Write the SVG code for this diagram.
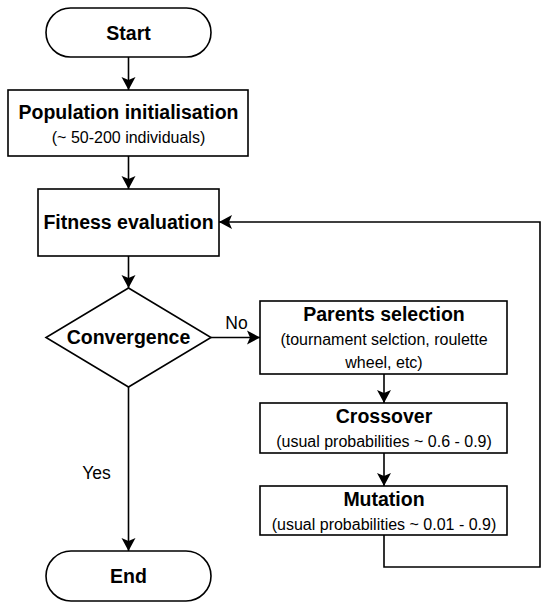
<svg xmlns="http://www.w3.org/2000/svg" width="550" height="609" viewBox="0 0 550 609">
<defs>
<marker id="arr" markerUnits="userSpaceOnUse" markerWidth="16" markerHeight="16" viewBox="0 0 16 16" refX="14" refY="8" orient="auto">
<path d="M1,1 L14,8 L1,15 L4,8 Z" fill="#000"/>
</marker>
</defs>
<style>
.s{fill:#fff;stroke:#000;stroke-width:1.6}
.b{font-family:"Liberation Sans",Arial,sans-serif;font-weight:bold;font-size:19.5px;text-anchor:middle;fill:#000}
.r{font-family:"Liberation Sans",Arial,sans-serif;font-size:16px;text-anchor:middle;fill:#000}
.l{font-family:"Liberation Sans",Arial,sans-serif;font-size:17.5px;text-anchor:middle;fill:#000}
.c{fill:none;stroke:#000;stroke-width:1.6}
</style>
<rect width="550" height="609" fill="#fff"/>
<g id="connectors">
<line class="c" x1="128.5" y1="57" x2="128.5" y2="90" marker-end="url(#arr)"/>
<line class="c" x1="128.5" y1="156" x2="128.5" y2="189" marker-end="url(#arr)"/>
<line class="c" x1="128.5" y1="256" x2="128.5" y2="288" marker-end="url(#arr)"/>
<line class="c" x1="211" y1="337.5" x2="260" y2="337.5" marker-end="url(#arr)"/>
<text class="l" x="236.5" y="328.5">No</text>
<line class="c" x1="128.5" y1="387" x2="128.5" y2="551" marker-end="url(#arr)"/>
<text class="l" x="96.5" y="478.5">Yes</text>
<line class="c" x1="384" y1="374" x2="384" y2="403" marker-end="url(#arr)"/>
<line class="c" x1="384" y1="453" x2="384" y2="486" marker-end="url(#arr)"/>
<polyline class="c" points="384,535 384,567 540,567 540,222 219,222" marker-end="url(#arr)"/>
</g>
<g id="start">
<rect class="s" x="46" y="8" width="165" height="49" rx="24.5"/>
<text class="b" x="128.5" y="40">Start</text>
</g>
<g id="population">
<rect class="s" x="8" y="90" width="240" height="66"/>
<text class="b" x="128.5" y="119">Population initialisation</text>
<text class="r" x="128.5" y="143">(~ 50-200 individuals)</text>
</g>
<g id="fitness">
<rect class="s" x="38" y="189" width="181" height="67"/>
<text class="b" x="128.5" y="229">Fitness evaluation</text>
</g>
<g id="convergence">
<polygon class="s" points="128.5,288 211,337.5 128.5,387 46,337.5"/>
<text class="b" x="128.5" y="344">Convergence</text>
</g>
<g id="end">
<rect class="s" x="46" y="551" width="165" height="50" rx="25"/>
<text class="b" x="128.5" y="583">End</text>
</g>
<g id="parents">
<rect class="s" x="260" y="301" width="247" height="73"/>
<text class="b" x="384" y="321">Parents selection</text>
<text class="r" x="384" y="345">(tournament selction, roulette</text>
<text class="r" x="384" y="368">wheel, etc)</text>
</g>
<g id="crossover">
<rect class="s" x="260" y="403" width="247" height="50"/>
<text class="b" x="384" y="423">Crossover</text>
<text class="r" x="384" y="447">(usual probabilities ~ 0.6 - 0.9)</text>
</g>
<g id="mutation">
<rect class="s" x="260" y="486" width="247" height="49"/>
<text class="b" x="384" y="506">Mutation</text>
<text class="r" x="384" y="530">(usual probabilities ~ 0.01 - 0.9)</text>
</g>
</svg>
